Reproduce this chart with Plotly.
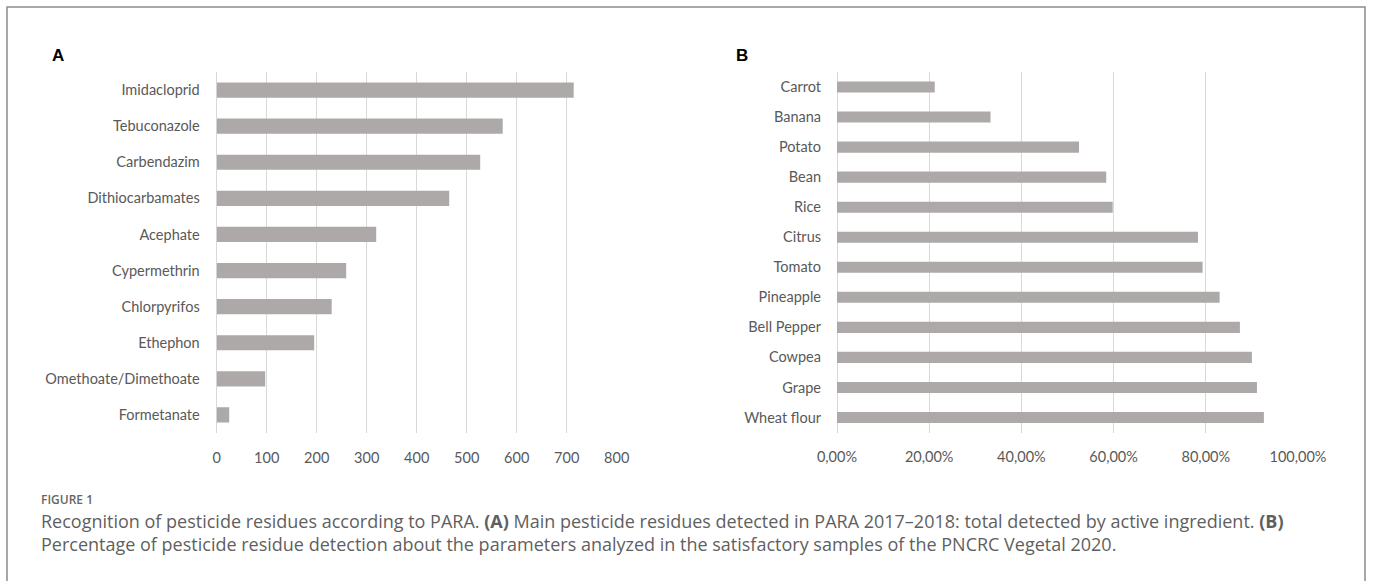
import plotly.graph_objects as go

# ---- data ----
pesticides = ["Imidacloprid", "Tebuconazole", "Carbendazim", "Dithiocarbamates", "Acephate",
              "Cypermethrin", "Chlorpyrifos", "Ethephon", "Omethoate/Dimethoate", "Formetanate"]
pesticide_counts = [714, 572, 527, 465, 319, 259, 230, 195, 97, 25]

crops = ["Carrot", "Banana", "Potato", "Bean", "Rice", "Citrus", "Tomato", "Pineapple",
         "Bell Pepper", "Cowpea", "Grape", "Wheat flour"]
crop_pct = [0.212, 0.333, 0.525, 0.584, 0.598, 0.783, 0.793, 0.830, 0.874, 0.900, 0.911, 0.926]

a_ticks = [0, 100, 200, 300, 400, 500, 600, 700, 800]
b_ticks = [0, 0.2, 0.4, 0.6, 0.8, 1.0]

W, H = 1373, 581
def px(x): return x / W
def py(y): return 1 - y / H

BAR = "#ADA9A9"
GRID = "#D9D9D9"
TXT = "#595959"
FONT = "Lato, Roboto, Liberation Sans, sans-serif"

fig = go.Figure()
fig.add_trace(go.Bar(y=pesticides, x=pesticide_counts, orientation="h", width=0.42,
                     marker=dict(color=BAR, line=dict(width=0)),
                     xaxis="x", yaxis="y", showlegend=False, hoverinfo="x+y"))
fig.add_trace(go.Bar(y=crops, x=crop_pct, orientation="h", width=0.37,
                     marker=dict(color=BAR, line=dict(width=0)),
                     xaxis="x2", yaxis="y2", showlegend=False, hoverinfo="x+y"))

tickfont = dict(family=FONT, size=14.5, color=TXT)

common = dict(automargin=False, fixedrange=True, showline=False, ticks="", tickfont=tickfont)

fig.update_layout(
    width=W, height=H, autosize=False,
    margin=dict(l=0, r=0, t=0, b=0, pad=0, autoexpand=False),
    paper_bgcolor="white", plot_bgcolor="white",
    separators=",.",
    showlegend=False,
    xaxis=dict(domain=[px(216.7), px(616.7)], range=[0, 800], tickvals=a_ticks,
               showgrid=True, gridcolor=GRID, gridwidth=1, zeroline=True, zerolinecolor=GRID,
               zerolinewidth=1, ticklabelstandoff=14, anchor="y", **common),
    yaxis=dict(domain=[py(433), py(72)], categoryorder="array", categoryarray=pesticides,
               autorange="reversed", showgrid=False, zeroline=False,
               ticklabelstandoff=16, anchor="x", **common),
    xaxis2=dict(domain=[px(837), px(1298)], range=[0, 1.0], tickvals=b_ticks,
                tickformat=".2%", showgrid=True, gridcolor=GRID, gridwidth=1,
                zeroline=True, zerolinecolor=GRID, zerolinewidth=1,
                ticklabelstandoff=14, anchor="y2", **common),
    yaxis2=dict(domain=[py(432.5), py(72)], categoryorder="array", categoryarray=crops,
                autorange="reversed", showgrid=False, zeroline=False,
                ticklabelstandoff=15, anchor="x2", **common),
)

# outer frame (open at the bottom of the view)
fig.add_shape(type="rect", xref="paper", yref="paper", x0=px(7), x1=px(1365),
              y0=py(600), y1=py(7), line=dict(color="#8C8C8C", width=1.5),
              fillcolor="rgba(0,0,0,0)", layer="above")

fig.add_annotation(text="<b>A</b>", xref="paper", yref="paper", x=px(58), y=py(56),
                   showarrow=False, xanchor="center", yanchor="middle",
                   font=dict(family="Liberation Sans, Arial, sans-serif", size=17, color="black"))
fig.add_annotation(text="<b>B</b>", xref="paper", yref="paper", x=px(742), y=py(56),
                   showarrow=False, xanchor="center", yanchor="middle",
                   font=dict(family="Liberation Sans, Arial, sans-serif", size=17, color="black"))

CAP_FONT = "Open Sans, Liberation Sans, sans-serif"
fig.add_annotation(text="FIGURE 1", xref="paper", yref="paper", x=px(40), y=py(499),
                   showarrow=False, xanchor="left", yanchor="middle", borderpad=0,
                   font=dict(family=CAP_FONT, size=12, color="#666666", weight=600))
fig.add_annotation(
    text="Recognition of pesticide residues according to PARA. <b>(A)</b> Main pesticide residues "
         "detected in PARA 2017\u20132018: total detected by active ingredient. <b>(B)</b>"
         "<br>Percentage of pesticide residue detection about the parameters analyzed in the "
         "satisfactory samples of the PNCRC Vegetal 2020.",
    xref="paper", yref="paper", x=px(40), y=py(532.5), showarrow=False, align="left",
    xanchor="left", yanchor="middle", borderpad=0,
    font=dict(family=CAP_FONT, size=18, color="#5F5F5F"))

fig.write_html("out.html", config={"displayModeBar": False},
               post_script="document.body.style.margin='0';document.body.style.overflow='hidden';")
